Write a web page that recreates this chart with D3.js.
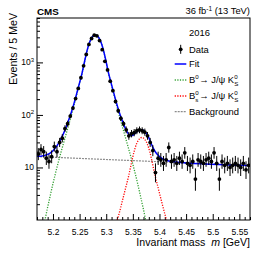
<!DOCTYPE html>
<html>
<head>
<meta charset="utf-8">
<script src="https://cdn.jsdelivr.net/npm/d3@7"></script>
<style>
body { margin: 0; background: #fff; }
svg { display: block; font-family: "Liberation Sans", Arial, sans-serif; }
</style>
</head>
<body>
<div id="chart"></div>
<script>
//Histogram: 5 MeV bins starting at 5.17 GeV
var binStart = 5.17, binWidth = 0.005;
var counts = [18, 22, 20, 15, 13, 16, 25, 20, 30, 36,
              55, 68, 95, 135, 205, 320, 510, 860, 1420, 2200,
              2850, 3300, 3200, 2600, 1750, 1050, 720, 440, 290, 180,
              120, 86, 68, 52, 40, 44, 46, 50, 52, 50,
              47, 40, 30, 21, 8, 15, 14, 12, 14, 24,
              13, 14, 12, 15, 13, 19, 12, 11, 13, 6,
              14, 13, 12, 14, 15, 13, 19, 12, 6, 13,
              11, 12, 10, 11, 12, 11, 10, 12, 9, 11];

//Total fit curve
var fitMass = [5.1695, 5.1745, 5.1795, 5.1845, 5.1895, 5.1945, 5.1995, 5.2045, 5.2095, 5.2145,
               5.2195, 5.2245, 5.2295, 5.2345, 5.2395, 5.2445, 5.2495, 5.2545, 5.2595, 5.2645,
               5.2695, 5.2745, 5.2795, 5.2845, 5.2895, 5.2945, 5.2995, 5.3045, 5.3095, 5.3145,
               5.3195, 5.3245, 5.3295, 5.3345, 5.3395, 5.3445, 5.3495, 5.3545, 5.3595, 5.3645,
               5.3695, 5.3745, 5.3795, 5.3845, 5.3895, 5.3945, 5.3995, 5.4045, 5.4095, 5.4145,
               5.4195, 5.4245, 5.4295, 5.4345, 5.4395, 5.5745];
var fitVal = [16.3, 16.4, 16.6, 17.0, 17.7, 18.8, 20.6, 23.4, 27.7, 34.2,
              43.6, 58.0, 79.8, 112.9, 166, 255, 395, 618, 1062, 1753,
              2527, 3105, 3326, 3105, 2527, 1753, 1062, 618, 395, 254.7,
              165.8, 112.9, 80.5, 59.8, 47.2, 41.0, 40.6, 45.0, 49.6, 52.4,
              51.2, 45.7, 37.7, 28.4, 22.0, 18.4, 16.3, 14.9, 14.1, 13.6,
              13.2, 12.95, 12.75, 12.6, 12.38, 10.85];

//B0 -> J/psi K0S component
var b0Mass = [5.1795, 5.1845, 5.1895, 5.1945, 5.1995, 5.2045, 5.2095, 5.2145, 5.2195, 5.2245,
              5.2295, 5.2345, 5.2395, 5.2445, 5.2495, 5.2545, 5.2595, 5.2645, 5.2695, 5.2745,
              5.2795, 5.2845, 5.2895, 5.2945, 5.2995, 5.3045, 5.3095, 5.3145, 5.3195, 5.3245,
              5.3295, 5.3345, 5.3395, 5.3445, 5.3495, 5.3545, 5.3595, 5.3645, 5.3695, 5.3745, 5.3795];
var b0Val = [0.55, 0.95, 1.66, 2.8, 4.7, 7.6, 12.0, 18.6, 28.2, 42.7,
             64.6, 97.7, 151, 240, 380, 603, 1047, 1738, 2512, 3090,
             3311, 3090, 2512, 1738, 1047, 603, 380, 240, 151, 97.7,
             64.6, 42.7, 28.2, 18.6, 12.0, 7.6, 4.7, 2.8, 1.66, 0.95, 0.55];

//Bs -> J/psi K0S component
var bsMass = [5.317, 5.322, 5.327, 5.332, 5.337, 5.342, 5.347, 5.352, 5.357, 5.362, 5.367,
              5.372, 5.377, 5.382, 5.387, 5.392, 5.397, 5.402, 5.407, 5.412, 5.417];
var bsVal = [0.72, 1.1, 1.7, 2.7, 4.3, 6.8, 11.7, 19.5, 28.2, 34.7, 37.2,
             34.7, 28.2, 19.5, 11.7, 6.8, 4.3, 2.7, 1.7, 1.1, 0.72];

//Background
var bgMass = [5.17, 5.57];
var bgVal = [16.1, 10.9];

//Axis ticks
var xMajor = [5.2, 5.25, 5.3, 5.35, 5.4, 5.45, 5.5, 5.55];
var xMinor = [5.17, 5.18, 5.19, 5.21, 5.22, 5.23, 5.24, 5.26, 5.27, 5.28, 5.29, 5.31, 5.32, 5.33, 5.34,
              5.36, 5.37, 5.38, 5.39, 5.41, 5.42, 5.43, 5.44, 5.46, 5.47, 5.48, 5.49, 5.51, 5.52, 5.53, 5.54, 5.56, 5.57];
var yMajor = [10, 100, 1000];
var yExp = [1, 2, 3];
var yMinor = [2, 3, 4, 5, 6, 7, 8, 9, 20, 30, 40, 50, 60, 70, 80, 90,
              200, 300, 400, 500, 600, 700, 800, 900, 2000, 3000, 4000, 5000, 6000, 7000];

var W = 266, H = 255;
var margin = {top: 18, right: 16, bottom: 35, left: 37};
var plotW = W - margin.left - margin.right;
var plotH = H - margin.top - margin.bottom;
var fs = 9.4;

var svg = d3.select("#chart").append("svg")
  .attr("width", W).attr("height", H);

var x = d3.scaleLinear().domain([5.17, 5.57]).range([0, plotW]);
var y = d3.scaleLog().domain([1, 7000]).range([plotH, 0]);

svg.append("defs").append("clipPath").attr("id", "clip")
  .append("rect").attr("width", plotW).attr("height", plotH);

var g = svg.append("g").attr("transform", "translate(" + margin.left + "," + margin.top + ")");

//Ticks (inward, ROOT style)
g.append("g").attr("transform", "translate(0," + plotH + ")")
  .call(d3.axisBottom(x).tickValues(xMajor).tickSize(-6).tickPadding(9).tickFormat(d3.format("")))
  .call(function(a) { a.select(".domain").remove(); a.selectAll("text").attr("font-size", 8.5).attr("font-family", null); });
g.append("g").attr("transform", "translate(0," + plotH + ")")
  .call(d3.axisBottom(x).tickValues(xMinor).tickSize(-3).tickFormat(""))
  .call(function(a) { a.select(".domain").remove(); });
g.append("g")
  .call(d3.axisLeft(y).tickValues(yMajor).tickSize(-6).tickFormat(""))
  .call(function(a) { a.select(".domain").remove(); });
g.append("g")
  .call(d3.axisLeft(y).tickValues(yMinor).tickSize(-3).tickFormat(""))
  .call(function(a) { a.select(".domain").remove(); });

//y tick labels 10^n
var ylab = g.selectAll(".ylab").data(yMajor).enter().append("text")
  .attr("class", "ylab")
  .attr("x", -3)
  .attr("y", function(d) { return y(d) + 3; })
  .attr("text-anchor", "end")
  .attr("font-size", 8.5);
ylab.append("tspan").text("10");
ylab.append("tspan").attr("font-size", 6).attr("dy", -3.5)
  .text(function(d, i) { return yExp[i] > 1 ? yExp[i] : ""; });

var plot = g.append("g").attr("clip-path", "url(#clip)");

var line = d3.line()
  .x(function(d) { return x(d[0]); })
  .y(function(d) { return y(d[1]); })
  .curve(d3.curveMonotoneX);

plot.append("path").datum(d3.zip(bgMass, bgVal))
  .attr("d", line).attr("fill", "none")
  .attr("stroke", "#8c8c8c").attr("stroke-width", 1.2).attr("stroke-dasharray", "2,1");
plot.append("path").datum(d3.zip(b0Mass, b0Val))
  .attr("d", line).attr("fill", "none")
  .attr("stroke", "#33a033").attr("stroke-width", 1.3).attr("stroke-dasharray", "1.2,1.4");
plot.append("path").datum(d3.zip(bsMass, bsVal))
  .attr("d", line).attr("fill", "none")
  .attr("stroke", "#ff0000").attr("stroke-width", 1.3).attr("stroke-dasharray", "1.2,1.4");
plot.append("path").datum(d3.zip(fitMass, fitVal))
  .attr("d", line).attr("fill", "none")
  .attr("stroke", "#0000ff").attr("stroke-width", 1.5);

//Data points with Poisson errors
var pts = counts.map(function(n, i) {
  return {m: binStart + binWidth * (i + 0.5), n: n,
          up: Math.sqrt(n + 0.75) + 1, lo: Math.sqrt(n - 0.25)};
});
plot.selectAll(".err").data(pts).enter().append("line")
  .attr("x1", function(d) { return x(d.m); })
  .attr("x2", function(d) { return x(d.m); })
  .attr("y1", function(d) { return y(d.n + d.up); })
  .attr("y2", function(d) { return y(Math.max(d.n - d.lo, 0.5)); })
  .attr("stroke", "#000").attr("stroke-width", 1);
plot.selectAll(".pt").data(pts).enter().append("circle")
  .attr("cx", function(d) { return x(d.m); })
  .attr("cy", function(d) { return y(d.n); })
  .attr("r", 1.9).attr("fill", "#000");

//Frame
g.append("rect").attr("width", plotW).attr("height", plotH)
  .attr("fill", "none").attr("stroke", "#000").attr("stroke-width", 1);

//Axis titles
g.append("text").attr("x", plotW).attr("y", plotH + 26)
  .attr("text-anchor", "end").attr("font-size", 10.6)
  .html('Invariant mass &#160;<tspan font-style="italic">m</tspan> [GeV]');
svg.append("text")
  .attr("transform", "translate(17,13) rotate(-90)")
  .attr("text-anchor", "end").attr("font-size", 10.6)
  .text("Events / 5 MeV");

//Header
svg.append("text").attr("x", margin.left).attr("y", 15)
  .attr("font-size", 9.8).attr("font-weight", "bold").text("CMS");
var lumi = svg.append("text").attr("x", margin.left + plotW).attr("y", 14)
  .attr("text-anchor", "end").attr("font-size", fs);
lumi.append("tspan").text("36 fb");
lumi.append("tspan").attr("font-size", 6.5).attr("dy", -3.5).text("-1");
lumi.append("tspan").attr("dy", 3.5).text(" (13 TeV)");

//Legend
var lx = 189, lineX0 = 174.7, lineX1 = 186.3;
var rows = [32.7, 49.3, 64, 80, 96, 111.7];
var leg = svg.append("g").attr("font-size", fs);

function label(yc, parts) {
  var cx = lx;
  parts.forEach(function(p) {
    if (p.sup || p.sub) {
      var w = 0;
      if (p.sup) {
        var t1 = leg.append("text").attr("x", cx).attr("y", yc - 1.2).attr("font-size", 6.2).text(p.sup);
        w = Math.max(w, t1.node().getComputedTextLength());
      }
      if (p.sub) {
        var t2 = leg.append("text").attr("x", cx).attr("y", yc + 6).attr("font-size", 6.2).text(p.sub);
        w = Math.max(w, t2.node().getComputedTextLength());
      }
      cx += w + 0.6;
    } else {
      var t = leg.append("text").attr("x", cx).attr("y", yc + 3.4).text(p.t);
      cx += t.node().getComputedTextLength();
    }
  });
}

label(rows[0], [{t: "2016"}]);
leg.append("line").attr("x1", 180.7).attr("x2", 180.7).attr("y1", rows[1] - 4.5).attr("y2", rows[1] + 4.5)
  .attr("stroke", "#000");
leg.append("circle").attr("cx", 180.7).attr("cy", rows[1]).attr("r", 1.9).attr("fill", "#000");
label(rows[1], [{t: "Data"}]);
leg.append("line").attr("x1", lineX0).attr("x2", lineX1).attr("y1", rows[2]).attr("y2", rows[2])
  .attr("stroke", "#0000ff").attr("stroke-width", 1.5);
label(rows[2], [{t: "Fit"}]);
leg.append("line").attr("x1", lineX0).attr("x2", lineX1).attr("y1", rows[3]).attr("y2", rows[3])
  .attr("stroke", "#33a033").attr("stroke-width", 1.3).attr("stroke-dasharray", "1.2,1.4");
label(rows[3], [{t: "B"}, {sup: "0"}, {t: " \u2192 J/\u03C8 K"}, {sup: "0", sub: "S"}]);
leg.append("line").attr("x1", lineX0).attr("x2", lineX1).attr("y1", rows[4]).attr("y2", rows[4])
  .attr("stroke", "#ff0000").attr("stroke-width", 1.3).attr("stroke-dasharray", "1.2,1.4");
label(rows[4], [{t: "B"}, {sup: "0", sub: "s"}, {t: " \u2192 J/\u03C8 K"}, {sup: "0", sub: "S"}]);
leg.append("line").attr("x1", lineX0).attr("x2", lineX1).attr("y1", rows[5]).attr("y2", rows[5])
  .attr("stroke", "#8c8c8c").attr("stroke-width", 1.2).attr("stroke-dasharray", "2,1");
label(rows[5], [{t: "Background"}]);
</script>
</body>
</html>
